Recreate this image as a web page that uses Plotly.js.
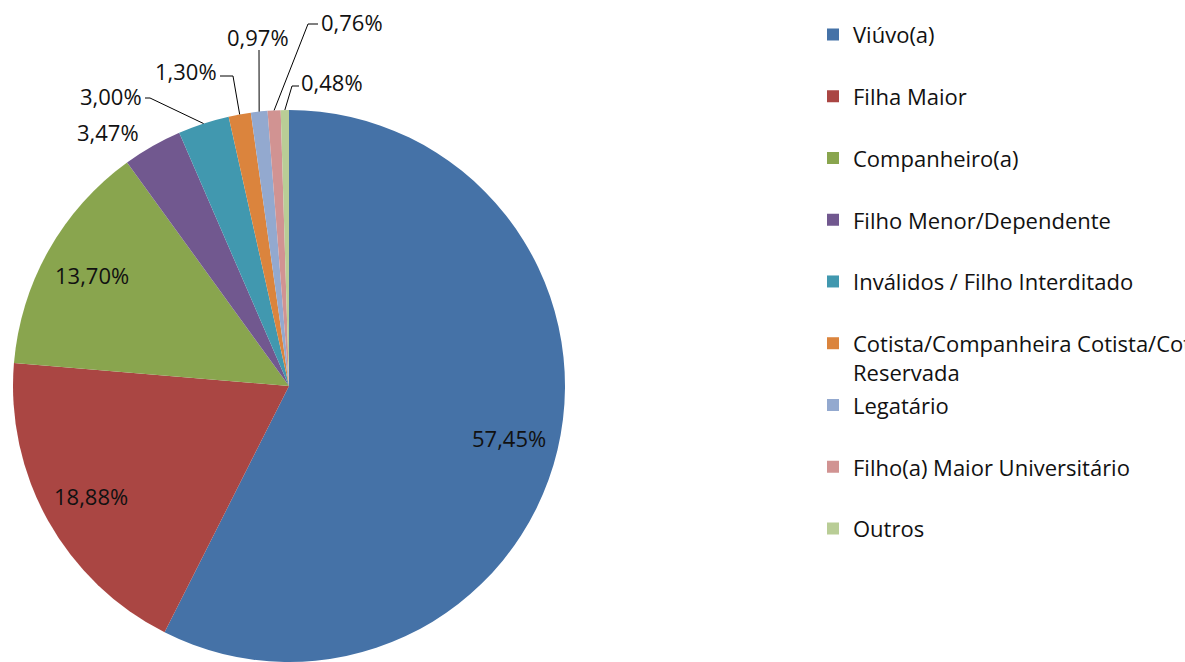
<!DOCTYPE html>
<html><head><meta charset="utf-8">
<script src="https://cdn.plot.ly/plotly-3.0.1.min.js"></script>
<style>html,body{margin:0;padding:0;overflow:hidden;background:#fff}#chart{width:1185px;height:662px}</style>
</head><body><div id="chart"></div>
<script>
// ---- data ----
const categories = ['Viúvo(a)', 'Filha Maior', 'Companheiro(a)', 'Filho Menor/Dependente',
  'Inválidos / Filho Interditado', 'Cotista/Companheira Cotista/Cota Reservada',
  'Legatário', 'Filho(a) Maior Universitário', 'Outros'];
const values = [57.45, 18.88, 13.70, 3.47, 3.00, 1.30, 0.97, 0.76, 0.48];
const colors = ['#4572A7', '#AA4643', '#89A54E', '#71588F', '#4198AF', '#DB843D', '#93A9CF', '#D19392', '#B9CD96'];

// ---- layout config (pixels) ----
const W = 1185, H = 662;
const CX = 289, CY = 386, R = 276;
const FONT = 'Open Sans, Noto Sans, sans-serif';
// outside label placement: text centre, leader start (near label), leader elbow; null = no leader
const outside = {
  3: {text: [108, 132], lead: null},
  4: {text: [111, 96], lead: [[145, 98], [150, 98]]},
  5: {text: [186, 71], lead: [[220, 76], [233, 76]]},
  6: {text: [258, 37], lead: [[259, 50], [259, 50]]},
  7: {text: [352, 22], lead: [[318, 24], [308, 24]]},
  8: {text: [332, 82], lead: [[299, 86], [292, 86]]}
};

const px = x => x / W, py = y => 1 - y / H;
const fmt = v => v.toFixed(2).replace('.', ',') + '%';
const total = values.reduce((a, b) => a + b, 0);

const SPAN = '<span style="font-size:22px">';
const legendText = categories.map(c => {
  if (c.length > 32) {
    const i = c.lastIndexOf(' ');
    return SPAN + c.slice(0, i) + '</span><br>' + SPAN + c.slice(i + 1) + '</span>';
  }
  return SPAN + c + '</span><br>&nbsp;';
});

const annotations = [], shapes = [];
let cum = 0;
values.forEach((v, i) => {
  const mid = (cum + v / 2) / total * 2 * Math.PI; // clockwise from 12 o'clock
  cum += v;
  const sx = Math.sin(mid), sy = -Math.cos(mid);
  let tx, ty;
  if (outside[i]) {
    [tx, ty] = outside[i].text;
    const ld = outside[i].lead;
    if (ld) {
      const ex = CX + R * sx, ey = CY + R * sy;
      shapes.push({type: 'path', xref: 'paper', yref: 'paper',
        path: `M${px(ld[0][0])},${py(ld[0][1])} L${px(ld[1][0])},${py(ld[1][1])} L${px(ex)},${py(ey)}`,
        line: {color: '#000', width: 1}});
    }
  } else {
    tx = CX + 0.82 * R * sx; ty = CY + 0.82 * R * sy;
  }
  annotations.push({xref: 'paper', yref: 'paper', x: px(tx), y: py(ty), xanchor: 'center', yanchor: 'middle',
    text: fmt(v), showarrow: false, font: {family: FONT, size: 22, color: '#111'}});
});

const trace = {
  type: 'pie', labels: legendText, values: values, sort: false, direction: 'clockwise', rotation: 0,
  marker: {colors: colors, line: {width: 0}}, textinfo: 'none', hoverinfo: 'none',
  domain: {x: [(CX - R) / W, (CX + R) / W], y: [(H - CY - R) / H, (H - CY + R) / H]}
};

const layout = {
  width: W, height: H, margin: {l: 0, r: 0, t: 0, b: 0, autoexpand: false},
  paper_bgcolor: '#fff', plot_bgcolor: '#fff', showlegend: true,
  legend: {x: (853 - 40) / W, xanchor: 'left', y: 0.98, yanchor: 'top', valign: 'top',
    font: {family: FONT, size: 22.6, color: '#111'}, bgcolor: 'rgba(0,0,0,0)', borderwidth: 0},
  annotations: annotations, shapes: shapes
};

Plotly.newPlot('chart', [trace], layout, {staticPlot: true, displayModeBar: false});
</script></body></html>
